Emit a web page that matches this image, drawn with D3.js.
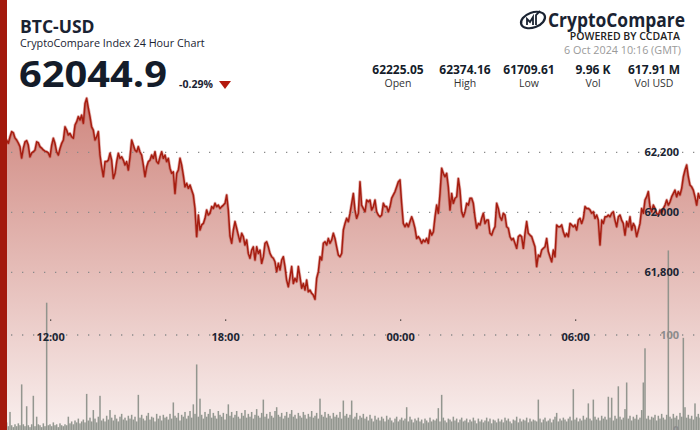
<!DOCTYPE html>
<html><head><meta charset="utf-8">
<script src="https://cdn.jsdelivr.net/npm/d3@7"></script>
<style>body{margin:0;background:#fff;} svg{display:block;font-family:"Open Sans",sans-serif;}</style>
</head><body><svg id="c" width="700" height="430"></svg>
<script>
const startTime = "2024-10-05T10:16:00Z";
const endTime = "2024-10-06T10:16:00Z";
const prices = [
62241,62238,62234,62241,62241,62230,62252,62269,62265,62248,
62241,62231,62219,62181,62214,62235,62239,62224,62185,62198,
62202,62208,62235,62232,62219,62214,62208,62204,62202,62198,
62185,62224,62247,62230,62202,62191,62213,62230,62241,62285,
62274,62258,62263,62252,62247,62291,62302,62319,62308,62324,
62297,62363,62380,62348,62319,62285,62274,62241,62252,62269,
62191,62152,62119,62169,62169,62174,62197,62174,62113,62130,
62169,62197,62180,62185,62174,62158,62169,62141,62185,62241,
62224,62208,62202,62219,62201,62191,62158,62119,62152,62169,
62174,62191,62180,62202,62169,62163,62185,62202,62180,62191,
62169,62180,62147,62130,62135,62063,62130,62141,62180,62158,
62124,62085,62097,62080,62091,62074,62058,62013,61919,61991,
61941,61958,61963,61980,62008,61991,61997,62019,62013,62030,
62019,62024,62013,62019,62024,62030,62058,62008,61921,61897,
61941,61969,61947,61924,61902,61930,61919,61891,61908,61863,
61847,61874,61885,61841,61885,61863,61874,61830,61852,61897,
61902,61885,61863,61852,61847,61835,61802,61830,61808,61841,
61852,61819,61774,61752,61785,61819,61763,61780,61769,61819,
61785,61747,61763,61741,61774,61735,61741,61730,61724,61710,
61780,61802,61852,61841,61897,61902,61891,61913,61897,61908,
61930,61913,61885,61858,61852,61863,61941,61963,61980,61969,
61997,62030,62063,62008,61980,61997,62102,62024,62013,62002,
62041,62035,62041,62008,62019,62041,62002,61991,61985,61991,
62030,62019,62019,62002,62019,62047,62058,62069,62085,62102,
62108,62030,61963,61952,61963,61952,61969,61985,61969,61947,
61913,61919,61911,61897,61908,61902,61913,61897,61941,61924,
61935,61985,62024,61997,62063,62147,62130,62119,62130,62085,
62008,62063,62030,62047,62052,62113,62074,62002,61985,62002,
62030,62024,62047,62047,62030,61985,61947,61963,61958,61980,
61997,61963,61974,61974,61930,61924,61941,61952,62030,62013,
61985,61974,61997,61991,61952,61947,61919,61908,61913,61897,
61880,61919,61924,61919,61880,61930,61969,61930,61924,61919,
61902,61885,61819,61858,61852,61874,61880,61885,61913,61869,
61852,61835,61874,61852,61958,61952,61952,61958,61935,61919,
61930,61919,61963,61958,61952,61958,61941,61974,61980,61963,
61980,62019,62013,62013,62008,61997,62002,61980,61991,61974,
61891,61974,61963,61985,61985,61991,61985,61997,62002,61974,
61952,61985,61991,61974,61963,61924,61969,61952,61985,61941,
61963,61952,61919,61941,61963,62013,61997,62041,62052,62069,
62019,62002,62024,62013,61997,61991,62008,61997,62013,62024,
62041,62024,62035,62052,62063,62074,62052,62069,62058,62080,
62119,62141,62158,62119,62091,62085,62074,62052,62024,62063,
62044.9];
const volumes = [
4,6,3,5,8,4,19,5,3,6,4,7,5,48,6,4,25,5,3,6,
36,4,14,6,5,3,7,4,134,5,6,4,8,5,6,3,7,5,4,6,
5,14,7,9,6,10,8,12,7,9,11,8,38,10,13,9,21,12,8,14,
36,10,12,9,15,11,21,13,10,16,12,9,14,17,11,13,10,15,12,16,
11,14,9,37,13,16,12,10,15,18,11,14,13,9,17,12,15,10,16,13,
14,11,17,12,29,15,13,18,10,16,14,19,12,15,20,13,27,17,69,14,
33,16,12,19,14,17,22,13,18,15,12,20,16,14,18,11,17,27,15,19,
13,16,20,14,12,18,15,21,13,17,14,19,12,16,22,15,13,18,32,14,
17,12,19,15,13,20,24,16,14,18,12,15,19,13,17,21,14,16,12,18,
15,13,19,16,12,17,14,20,13,15,18,12,33,16,14,19,13,17,15,12,
18,14,16,13,19,12,31,15,17,13,16,31,12,14,18,11,15,13,17,12,
14,10,16,12,9,15,11,13,10,14,12,9,15,11,13,10,8,12,14,9,
11,13,10,12,24,9,14,11,8,12,10,13,9,11,7,12,10,8,13,9,
11,10,12,23,9,37,13,10,8,12,11,9,14,10,12,8,11,13,9,10,
12,8,11,9,13,10,7,12,9,11,8,10,13,9,12,7,11,10,8,12,
9,11,8,13,10,12,9,7,11,10,14,8,12,9,11,10,13,8,12,9,
11,10,9,32,12,8,11,13,9,10,12,8,11,14,18,9,12,10,13,11,
9,12,14,10,43,11,13,9,12,10,15,11,13,28,12,10,32,14,11,13,
10,15,12,14,11,35,13,34,10,15,12,46,14,11,13,22,50,12,15,10,
14,12,16,11,13,21,50,86,12,15,11,14,13,16,10,15,12,17,13,11,
16,189,14,12,17,13,15,11,18,14,97,24,13,16,12,15,11,28,14,17,
13];
const priceTicks = [61800, 62000, 62200];
const volTicks = [0, 100];
const timeTicks = ["2024-10-05T12:00:00Z","2024-10-05T18:00:00Z","2024-10-06T00:00:00Z","2024-10-06T06:00:00Z"];
const statValues = ["62225.05","62374.16","61709.61","9.96 K","617.91 M"];
const statLabels = ["Open","High","Low","Vol","Vol USD"];
const lastPrice = "62044.9";
const changePct = "-0.29%";

const svg = d3.select("#c");
const W = 700, H = 430;
const t0 = new Date(startTime), t1 = new Date(endTime);
const n = prices.length;
const data = prices.map((p,i)=>({t:new Date(+t0 + i*(t1-t0)/(n-1)), p, v:volumes[i]}));

const x = d3.scaleUtc().domain([t0,t1]).range([0,700]);
const y = d3.scaleLinear().domain([61800,62200]).range([272.3,152.3]);
const yv = d3.scaleLinear().domain([0,100]).range([430,335]);

const defs = svg.append("defs");
const g = defs.append("linearGradient").attr("id","ag").attr("gradientUnits","userSpaceOnUse")
  .attr("x1",0).attr("x2",0).attr("y1",95).attr("y2",430);
g.append("stop").attr("offset",0).attr("stop-color","rgb(207,134,126)");
g.append("stop").attr("offset",0.5).attr("stop-color","rgb(228,186,181)");
g.append("stop").attr("offset",1).attr("stop-color","rgb(249,239,238)");

// area
svg.append("path").datum(data)
  .attr("d", d3.area().x(d=>x(d.t)).y0(H).y1(d=>y(d.p)))
  .attr("fill","url(#ag)");

// volume bars
svg.append("g").selectAll("rect").data(data).join("rect")
  .attr("x", d=>x(d.t)-0.75).attr("width",1.5)
  .attr("y", d=>yv(d.v)).attr("height", d=>yv(0)-yv(d.v))
  .attr("fill","#8a8f88").attr("opacity",0.92);

// price grid
const grid = svg.append("g");
priceTicks.forEach(v=>{
  grid.append("line").attr("x1",11).attr("x2",W).attr("y1",y(v)).attr("y2",y(v))
    .attr("stroke","#8a8a8a").attr("stroke-width",1.3).attr("stroke-dasharray","1.3,9.7");
});
// volume grid (100)
grid.append("line").attr("x1",11).attr("x2",W).attr("y1",yv(100)).attr("y2",yv(100))
    .attr("stroke","#8a8a8a").attr("stroke-width",1.3).attr("stroke-dasharray","1.3,9.7");

// line
const lineGen = d3.line().x(d=>x(d.t)).y(d=>y(d.p));
svg.append("path").datum(data).attr("d",lineGen).attr("fill","none")
  .attr("stroke","rgba(175,35,25,0.35)").attr("stroke-width",3).attr("stroke-linejoin","round");
svg.append("path").datum(data).attr("d",lineGen).attr("fill","none")
  .attr("stroke","#a61d10").attr("stroke-width",1.5).attr("stroke-linejoin","round");

// y labels
priceTicks.forEach(v=>{
  svg.append("text").attr("x",679).attr("y",y(v)).attr("dy","0.35em").attr("text-anchor","end")
    .attr("font-size",11).attr("font-weight",700).attr("fill","#1c2533").text(d3.format(",")(v));
});
volTicks.forEach(v=>{
  svg.append("text").attr("x",679).attr("y",yv(v)).attr("dy","0.35em").attr("text-anchor","end")
    .attr("font-size",11).attr("font-weight",700).attr("fill","#8c8c8c").text(v);
});

// x labels
const fmt = d3.utcFormat("%H:%M");
timeTicks.forEach(s=>{
  const t = new Date(s);
  svg.append("rect").attr("x",x(t)-0.5).attr("y",319.5).attr("width",1.2).attr("height",1.2).attr("fill","#222");
  svg.append("text").attr("x",x(t)).attr("y",337).attr("dy","0.35em").attr("text-anchor","middle")
    .attr("font-size",11).attr("font-weight",700).attr("fill","#1c2533").text(fmt(t));
});

// left red bar
svg.append("rect").attr("x",0).attr("y",0).attr("width",7).attr("height",H).attr("fill","#a3190d");

// header left
svg.append("text").attr("x",20).attr("y",33.3).attr("font-size",17.5).attr("font-weight",700).attr("fill","#1a2332").text("BTC-USD");
svg.append("text").attr("x",20).attr("y",47.3).attr("font-size",10.8).attr("fill","#1a2332").text("CryptoCompare Index 24 Hour Chart");
svg.append("text").attr("x",19).attr("y",87.3).attr("font-size",36).attr("font-weight",700).attr("fill","#141c2a")
  .attr("textLength",148).attr("lengthAdjust","spacingAndGlyphs").text(lastPrice);
svg.append("text").attr("x",179).attr("y",87.8).attr("font-size",10.5).attr("font-weight",700).attr("fill","#1a2332").text(changePct);
svg.append("path").attr("d","M219,81 L231,81 L225,89 Z").attr("fill","#b3190e");

// logo
const lg = svg.append("g");
lg.append("ellipse").attr("cx",533).attr("cy",20).attr("rx",12.5).attr("ry",7.5)
  .attr("transform","rotate(-20,533,20)").attr("fill","none").attr("stroke","#1a2332").attr("stroke-width",2.2);
lg.append("path").attr("d","M527,25 L527,19 L530,22 L533,17 L533,25 M536,25 L536,15 L540,11")
  .attr("fill","none").attr("stroke","#1a2332").attr("stroke-width",1.8);
svg.append("text").attr("x",685).attr("y",26.5).attr("text-anchor","end").attr("font-size",19).attr("font-weight",700)
  .attr("fill","#1a2332").attr("textLength",137).attr("lengthAdjust","spacingAndGlyphs").text("CryptoCompare");
svg.append("text").attr("x",680).attr("y",40).attr("text-anchor","end").attr("font-size",10.5).attr("font-weight",600)
  .attr("fill","#222").text("POWERED BY CCDATA");
svg.append("text").attr("x",681).attr("y",54.3).attr("text-anchor","end").attr("font-size",10.8)
  .attr("fill","#9a9a9a").text("6 Oct 2024 10:16 (GMT)");

// stats
const statX = [398, 465, 529, 593, 654];
statValues.forEach((v,i)=>{
  svg.append("text").attr("x",statX[i]).attr("y",74).attr("text-anchor","middle").attr("font-size",12).attr("font-weight",700)
    .attr("fill","#141c2a").text(v);
  svg.append("text").attr("x",statX[i]).attr("y",87.3).attr("text-anchor","middle").attr("font-size",10.5)
    .attr("fill","#333").text(statLabels[i]);
});
</script></body></html>
